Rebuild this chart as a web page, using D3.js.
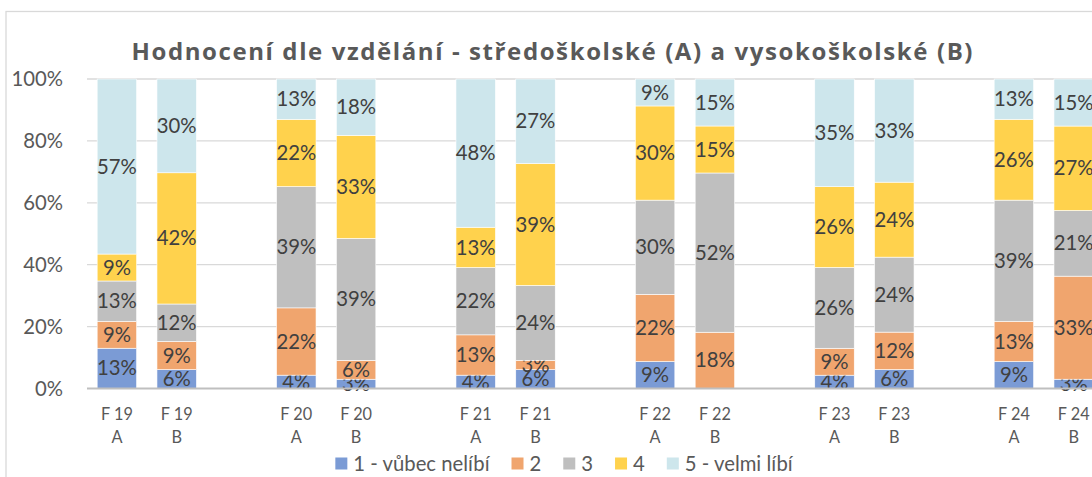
<!DOCTYPE html>
<html>
<head>
<meta charset="utf-8">
<script src="https://d3js.org/d3.v7.min.js"></script>
<style>
	body { margin: 0; background: #fff; }
	svg { display: block; font-family: Lato, "Open Sans", sans-serif; }
</style>
</head>
<body>
<div id="graph-frame"></div>
<script>
// category slots, blank slot between year groups
var years = ["F 19", "F 19", "", "F 20", "F 20", "", "F 21", "F 21", "", "F 22", "F 22", "", "F 23", "F 23", "", "F 24", "F 24", ""];
var groups = ["A", "B", "", "A", "B", "", "A", "B", "", "A", "B", "", "A", "B", "", "A", "B", ""];

var seriesNames = ["1 - vůbec nelíbí", "2", "3", "4", "5 - velmi líbí"];
var seriesColors = ["#7b9bd5", "#f0a56e", "#bfbfbf", "#ffd24d", "#cde6ec"];

// percent per bar (A and B only)
var s1 = [13.0, 6.1, 4.3, 3.0, 4.3, 6.1, 8.7, 0.0, 4.3, 6.1, 8.7, 3.0];
var s2 = [8.7, 9.1, 21.7, 6.1, 13.0, 3.0, 21.7, 18.2, 8.7, 12.1, 13.0, 33.3];
var s3 = [13.0, 12.1, 39.1, 39.4, 21.7, 24.2, 30.4, 51.5, 26.1, 24.2, 39.1, 21.2];
var s4 = [8.7, 42.4, 21.7, 33.3, 13.0, 39.4, 30.4, 15.2, 26.1, 24.2, 26.1, 27.3];
var s5 = [56.5, 30.3, 13.0, 18.2, 47.8, 27.3, 8.7, 15.2, 34.8, 33.3, 13.0, 15.2];

var yTicks = [0, 0.2, 0.4, 0.6, 0.8, 1];

var chartTitle = "Hodnocení dle vzdělání - středoškolské (A) a vysokoškolské (B)";

var width = 1092, height = 477;
var margin = {top: 79, left: 87, bottom: 388.5};
var fontSize = "20.3px";

var slotIds = years.map(function(d, i) { return "c" + i; });

// build rows for d3.stack
var series = [s1, s2, s3, s4, s5];
var rows = [];
var k = 0;
slotIds.forEach(function(id, i) {
	if (groups[i] == "") return;
	var r = {id: id, idx: i};
	series.forEach(function(s, j) { r["s" + j] = s[k]; });
	rows.push(r);
	k++;
});

var keys = series.map(function(d, j) { return "s" + j; });
var stacked = d3.stack().keys(keys).offset(d3.stackOffsetExpand)(rows);

var step = 59.8;
var x = d3.scaleBand()
	.domain(slotIds)
	.range([margin.left, margin.left + step * slotIds.length])
	.paddingInner(0.34)
	.paddingOuter(0.17);

var y = d3.scaleLinear()
	.domain([0, 1])
	.range([margin.bottom, margin.top]);

var svg = d3.select("#graph-frame").append("svg")
	.attr("width", width)
	.attr("height", height);

// chart border (right / bottom are off the picture)
svg.append("rect")
	.attr("x", 6)
	.attr("y", 11.5)
	.attr("width", width + 20)
	.attr("height", height + 20)
	.attr("fill", "none")
	.attr("stroke", "#d9d9d9")
	.attr("stroke-width", 1.3);

// title
svg.append("text")
	.attr("x", 131.5)
	.attr("y", 60)
	.attr("textLength", 841)
	.attr("lengthAdjust", "spacing")
	.style("font-family", "'Open Sans', sans-serif")
	.style("font-weight", "bold")
	.style("font-size", "24px")
	.attr("fill", "#595959")
	.text(chartTitle);

// gridlines
svg.append("g")
	.selectAll("line")
	.data(yTicks.filter(function(d) { return d > 0; }))
	.enter()
	.append("line")
	.attr("x1", margin.left)
	.attr("x2", width)
	.attr("y1", function(d) { return y(d); })
	.attr("y2", function(d) { return y(d); })
	.attr("stroke", "#d9d9d9")
	.attr("stroke-width", 1.3);

// y axis labels
var yAxis = d3.axisLeft(y)
	.tickValues(yTicks)
	.tickFormat(d3.format(".0%"))
	.tickSize(0)
	.tickPadding(0);

var yg = svg.append("g")
	.attr("transform", "translate(63,0)")
	.call(yAxis);
yg.select(".domain").remove();
yg.selectAll("text")
	.style("font-family", "Lato, sans-serif")
	.style("font-size", fontSize)
	.attr("fill", "#595959");

// bars
var layer = svg.append("g")
	.selectAll("g")
	.data(stacked)
	.enter()
	.append("g")
	.attr("fill", function(d, j) { return seriesColors[j]; });

layer.selectAll("rect")
	.data(function(d) { return d; })
	.enter()
	.append("rect")
	.attr("x", function(d) { return x(d.data.id); })
	.attr("width", x.bandwidth())
	.attr("y", function(d) { return y(d[1]); })
	.attr("height", function(d) { return y(d[0]) - y(d[1]); })
	.attr("stroke", "#fff")
	.attr("stroke-width", 0.6);

// baseline
svg.append("line")
	.attr("x1", margin.left)
	.attr("x2", width)
	.attr("y1", y(0))
	.attr("y2", y(0))
	.attr("stroke", "#bfbfbf")
	.attr("stroke-width", 2);

// data labels (small segments overlap, as in the original)
layer.each(function(sd, j) {
	d3.select(this).selectAll("text")
		.data(sd.filter(function(d) { return d.data["s" + j] > 0; }))
		.enter()
		.append("text")
		.attr("x", function(d) { return x(d.data.id) + x.bandwidth() / 2; })
		.attr("y", function(d) { return (y(d[0]) + y(d[1])) / 2; })
		.attr("dy", "0.35em")
		.attr("text-anchor", "middle")
		.style("font-size", fontSize)
		.attr("fill", "#404040")
		.text(function(d) { return Math.round(d.data["s" + j]) + "%"; });
});

// category labels (two lines)
var cat = svg.append("g")
	.selectAll("text")
	.data(slotIds.filter(function(d, i) { return groups[i] != ""; }))
	.enter()
	.append("text")
	.attr("text-anchor", "middle")
	.style("font-size", "16.3px")
	.attr("fill", "#595959");

cat.append("tspan")
	.attr("x", function(d) { return x(d) + x.bandwidth() / 2; })
	.attr("y", 419.5)
	.text(function(d) { return years[+d.slice(1)]; });
cat.append("tspan")
	.attr("x", function(d) { return x(d) + x.bandwidth() / 2; })
	.attr("y", 443)
	.text(function(d) { return groups[+d.slice(1)]; });

// legend
var legend = svg.append("g");
var lx = 0;
seriesNames.forEach(function(name, j) {
	var g = legend.append("g");
	g.append("rect")
		.attr("x", lx)
		.attr("y", 457.5)
		.attr("width", 12)
		.attr("height", 12)
		.attr("fill", seriesColors[j]);
	var t = g.append("text")
		.attr("x", lx + 18)
		.attr("y", 470.5)
		.style("font-size", fontSize)
		.attr("fill", "#595959")
		.text(name);
	lx += 18 + t.node().getComputedTextLength() + 22;
});
var legendW = lx - 22;
legend.attr("transform", "translate(" + (564 - legendW / 2) + ",0)");
</script>
</body>
</html>
